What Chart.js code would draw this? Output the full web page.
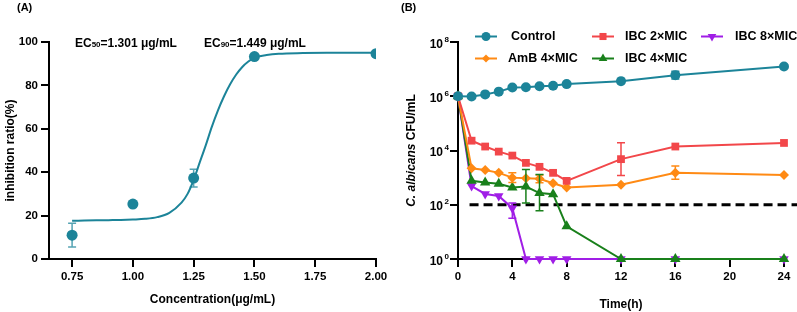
<!DOCTYPE html>
<html>
<head>
<meta charset="utf-8">
<script src="https://cdn.jsdelivr.net/npm/chart.js@4.4.0/dist/chart.umd.min.js"></script>
<style>
  body { margin: 0; background: #fff; }
  #wrap { position: relative; width: 797px; height: 312px; }
  canvas { position: absolute; top: 0; }
</style>
</head>
<body>
<div id="wrap">
  <canvas id="graficoA" width="400" height="312" style="left:0"></canvas>
  <canvas id="graficoB" width="397" height="312" style="left:400px"></canvas>
</div>
<script>
// ---- Panel A: inhibición vs concentración ----
const concentraciones = [0.75, 1.00, 1.25, 1.50, 2.00];
const inhibicion = [11.0, 25.3, 37.3, 93.3, 94.6];
const inhibicionError = [5.5, null, 4.1, null, null]; // +/- (SD)
// curva ajustada
const curvaX = [0.75, 0.80, 0.85, 0.90, 0.95, 1.00, 1.05, 1.10, 1.15, 1.20, 1.225, 1.25, 1.275, 1.30, 1.325, 1.35, 1.375, 1.40, 1.425, 1.45, 1.475, 1.50, 1.55, 1.60, 1.70, 1.80, 1.90, 2.00];
const curvaY = [17.6, 17.7, 17.8, 17.9, 18.0, 18.2, 18.5, 19.3, 21.3, 26.0, 30.0, 36.5, 44.5, 52.5, 61.0, 68.5, 75.0, 80.5, 85.0, 88.5, 91.0, 92.8, 94.0, 94.6, 94.9, 95.0, 95.0, 95.0];
const ticksConcentracion = [0.75, 1.00, 1.25, 1.50, 1.75, 2.00];
const ticksInhibicion = [0, 20, 40, 60, 80, 100];

// ---- Panel B: curva de muerte ----
const tiempos = [0, 1, 2, 3, 4, 5, 6, 7, 8, 12, 16, 24];
const control = [1e6, 0.98e6, 1.17e6, 1.48e6, 2.1e6, 2.15e6, 2.35e6, 2.45e6, 2.8e6, 3.6e6, 6.0e6, 1.25e7];
const ibc2 = [1e6, 2.3e4, 1.4e4, 9.1e3, 6.5e3, 3.5e3, 2.5e3, 1.5e3, 760, 4.8e3, 1.4e4, 1.9e4];
const amb4 = [1e6, 2.2e3, 1.9e3, 1.5e3, 1.0e3, 950, 900, 620, 430, 550, 1.5e3, 1.25e3];
const ibc4 = [1e6, 760, 660, 590, 430, 470, 270, 245, 16, 1, 1, 1];
const ibc8 = [1e6, 490, 250, 210, 75, 1, 1, 1, 1, 1, 1, 1];
// barras de error [min, max] por punto (null = sin barra)
const controlErr = [null, null, null, null, null, null, null, null, null, null, [4.3e6, 8.3e6], null];
const ibc2Err = [null, null, null, null, null, null, null, null, null, [1.2e3, 1.95e4], null, null];
const amb4Err = [null, null, null, null, [660, 1.5e3], null, [650, 1.25e3], null, null, null, [870, 2.7e3], null];
const ibc4Err = [null, null, null, null, null, [115, 2.0e3], [60, 1.3e3], null, null, null, null, null];
const ibc8Err = [null, null, null, null, [32, 115], null, null, null, null, null, null, null];
const limiteDeteccion = 100;
const limiteTiempos = [0.85, 25];
const ticksTiempo = [0, 4, 8, 12, 16, 20, 24];
const ticksUFC = [1, 1e2, 1e4, 1e6, 1e8];

const FUENTE = "'Liberation Sans', Arial, sans-serif";
const TEAL = '#1c8499';
const ROJO = '#f2474a';
const NARANJA = '#ff8a14';
const VERDE = '#19801b';
const MORADO = '#a01ee6';

Chart.defaults.font.family = FUENTE;
Chart.defaults.font.weight = 'bold';
Chart.defaults.color = '#000';

function ejeBase(extra) {
  return Object.assign({
    grid: { display: true, drawOnChartArea: false, drawTicks: true, tickLength: 8, color: '#000', lineWidth: 2 },
    border: { display: true, color: '#000', width: 2 },
    ticks: { color: '#000', font: { size: 11.5, weight: 'bold' }, padding: 3 }
  }, extra);
}

// dibuja barras de error guardadas en dataset.errores
const barrasError = {
  id: 'barrasError',
  afterDatasetsDraw(chart) {
    const ctx = chart.ctx;
    const xs = chart.scales.x, ys = chart.scales.y;
    chart.data.datasets.forEach(ds => {
      if (!ds.errores) return;
      ds.errores.forEach((e, j) => {
        if (!e) return;
        const px = xs.getPixelForValue(ds.data[j].x);
        const y1 = ys.getPixelForValue(e[0]);
        const y2 = ys.getPixelForValue(e[1]);
        ctx.save();
        ctx.strokeStyle = ds.colorError || ds.borderColor;
        ctx.lineWidth = 1.5;
        ctx.beginPath();
        ctx.moveTo(px, y1); ctx.lineTo(px, y2);
        ctx.moveTo(px - 4, y1); ctx.lineTo(px + 4, y1);
        ctx.moveTo(px - 4, y2); ctx.lineTo(px + 4, y2);
        ctx.stroke();
        ctx.restore();
      });
    });
  }
};

// ---- Gráfico A ----
const textosA = {
  id: 'textosA',
  afterDraw(chart) {
    const ctx = chart.ctx;
    ctx.save();
    ctx.fillStyle = '#000';
    ctx.textBaseline = 'alphabetic';
    ctx.font = 'bold 11px ' + FUENTE;
    ctx.fillText('(A)', 17, 11);
    const ec = [['50', '=1.301 μg/mL', 75], ['90', '=1.449 μg/mL', 204]];
    const yTexto = chart.scales.y.getPixelForValue(100) + 4.5;
    ec.forEach(([sub, resto, x0]) => {
      ctx.font = 'bold 12px ' + FUENTE;
      ctx.fillText('EC', x0, yTexto);
      let x = x0 + ctx.measureText('EC').width;
      ctx.font = 'bold 8px ' + FUENTE;
      ctx.fillText(sub, x, yTexto + 0.5);
      x += ctx.measureText(sub).width;
      ctx.font = 'bold 12px ' + FUENTE;
      ctx.fillText(resto, x, yTexto);
    });
    ctx.restore();
  }
};

new Chart(document.getElementById('graficoA'), {
  type: 'scatter',
  data: {
    datasets: [
      {
        label: 'Puntos',
        data: concentraciones.map((c, i) => ({ x: c, y: inhibicion[i] })),
        errores: inhibicionError.map((e, i) => e == null ? null : [inhibicion[i] - e, inhibicion[i] + e]),
        colorError: 'rgba(28,132,153,0.75)',
        backgroundColor: TEAL,
        borderColor: TEAL,
        pointRadius: 5.5,
        pointBorderWidth: 0
      },
      {
        label: 'Curva',
        data: curvaX.map((c, i) => ({ x: c, y: curvaY[i] })),
        showLine: true,
        borderColor: TEAL,
        borderWidth: 2,
        pointRadius: 0,
        cubicInterpolationMode: 'monotone'
      }
    ]
  },
  options: {
    responsive: false,
    animation: false,
    layout: { padding: { top: 42, right: 24, left: 0, bottom: 0 } },
    plugins: { legend: { display: false }, tooltip: { enabled: false } },
    scales: {
      x: ejeBase({
        type: 'linear', min: 0.655, max: 2.0,
        afterBuildTicks: s => { s.ticks = ticksConcentracion.map(v => ({ value: v })); },
        afterFit: s => { s.height = 53; },
        ticks: { color: '#000', font: { size: 11.5, weight: 'bold' }, padding: 3, callback: v => Number(v).toFixed(2) },
        title: { display: true, text: 'Concentration(μg/mL)', font: { size: 12, weight: 'bold' }, padding: { top: 0, bottom: 5 } }
      }),
      y: ejeBase({
        type: 'linear', min: 0, max: 100,
        afterBuildTicks: s => { s.ticks = ticksInhibicion.map(v => ({ value: v })); },
        afterFit: s => { s.width = 49; },
        title: { display: true, text: 'inhibition ratio(%)', font: { size: 12, weight: 'bold' }, padding: { top: 3, bottom: 0 } }
      })
    }
  },
  plugins: [barrasError, textosA]
});

// ---- Gráfico B ----
const leyendaB = [
  { texto: 'Control', color: TEAL, estilo: 'circle', rot: 0, radio: 4.5, mx: 86, tx: 111, y: 36.5 },
  { texto: 'IBC 2×MIC', color: ROJO, estilo: 'rect', rot: 0, radio: 5, mx: 203, tx: 225, y: 36.5 },
  { texto: 'IBC 8×MIC', color: MORADO, estilo: 'triangle', rot: 180, radio: 5, mx: 312, tx: 335, y: 36.5 },
  { texto: 'AmB 4×MIC', color: NARANJA, estilo: 'rectRot', rot: 0, radio: 4, mx: 86, tx: 108, y: 58.5 },
  { texto: 'IBC 4×MIC', color: VERDE, estilo: 'triangle', rot: 0, radio: 5, mx: 203, tx: 225, y: 58.5 }
];

const textosB = {
  id: 'textosB',
  afterDraw(chart) {
    const ctx = chart.ctx;
    const ys = chart.scales.y;
    ctx.save();
    ctx.fillStyle = '#000';
    ctx.font = 'bold 11px ' + FUENTE;
    ctx.textBaseline = 'alphabetic';
    ctx.fillText('(B)', 1, 11);

    // etiquetas 10^n
    ticksUFC.forEach(v => {
      const y = ys.getPixelForValue(v);
      const exp = String(Math.round(Math.log10(v)));
      ctx.font = 'bold 12px ' + FUENTE;
      ctx.textAlign = 'right';
      ctx.fillText('10', 43, y + 5.5);
      ctx.font = 'bold 8px ' + FUENTE;
      ctx.textAlign = 'left';
      ctx.fillText(exp, 44.5, y - 0.5);
    });

    // título eje Y con cursiva
    ctx.save();
    ctx.translate(12, (ys.top + ys.bottom) / 2);
    ctx.rotate(-Math.PI / 2);
    ctx.textAlign = 'left';
    ctx.textBaseline = 'middle';
    ctx.font = 'italic bold 12px ' + FUENTE;
    const w1 = ctx.measureText('C. albicans').width;
    ctx.font = 'bold 12px ' + FUENTE;
    const w2 = ctx.measureText(' CFU/mL').width;
    let x = -(w1 + w2) / 2;
    ctx.font = 'italic bold 12px ' + FUENTE;
    ctx.fillText('C. albicans', x, 0);
    ctx.font = 'bold 12px ' + FUENTE;
    ctx.fillText(' CFU/mL', x + w1, 0);
    ctx.restore();

    // leyenda
    leyendaB.forEach(it => {
      ctx.strokeStyle = it.color;
      ctx.fillStyle = it.color;
      ctx.lineWidth = 2;
      ctx.beginPath();
      ctx.moveTo(it.mx - 11, it.y); ctx.lineTo(it.mx + 11, it.y);
      ctx.stroke();
      Chart.helpers.drawPoint(ctx, { pointStyle: it.estilo, rotation: it.rot, radius: it.radio, borderWidth: 0 }, it.mx, it.y);
      ctx.fillStyle = '#000';
      ctx.font = 'bold 12.5px ' + FUENTE;
      ctx.textAlign = 'left';
      ctx.textBaseline = 'middle';
      ctx.fillText(it.texto, it.tx, it.y);
    });
    ctx.restore();
  }
};

function serie(nombre, valores, errores, color, estilo, radio, rot) {
  return {
    label: nombre,
    data: tiempos.map((t, i) => ({ x: t, y: valores[i] })),
    errores: errores,
    showLine: true,
    borderColor: color,
    backgroundColor: color,
    borderWidth: 2,
    pointStyle: estilo,
    pointRadius: radio,
    pointRotation: rot || 0,
    pointBorderWidth: 0,
    clip: false
  };
}

new Chart(document.getElementById('graficoB'), {
  type: 'scatter',
  data: {
    datasets: [
      serie('Control', control, controlErr, TEAL, 'circle', 5),
      serie('IBC 2×MIC', ibc2, ibc2Err, ROJO, 'rect', 5.5),
      serie('AmB 4×MIC', amb4, amb4Err, NARANJA, 'rectRot', 5),
      serie('IBC 4×MIC', ibc4, ibc4Err, VERDE, 'triangle', 6),
      serie('IBC 8×MIC', ibc8, ibc8Err, MORADO, 'triangle', 5.5, 180),
      {
        label: 'Límite',
        data: limiteTiempos.map(t => ({ x: t, y: limiteDeteccion })),
        showLine: true,
        borderColor: '#000',
        borderWidth: 3,
        borderDash: [9, 5],
        pointRadius: 0,
        clip: false
      }
    ]
  },
  options: {
    responsive: false,
    animation: false,
    layout: { padding: { top: 42, right: 13, left: 0, bottom: 0 } },
    plugins: { legend: { display: false }, tooltip: { enabled: false } },
    scales: {
      x: ejeBase({
        type: 'linear', min: 0, max: 24,
        afterBuildTicks: s => { s.ticks = ticksTiempo.map(v => ({ value: v })); },
        afterFit: s => { s.height = 53; },
        title: { display: true, text: 'Time(h)', font: { size: 12, weight: 'bold' }, padding: { top: 0, bottom: 0 } }
      }),
      y: ejeBase({
        type: 'logarithmic', min: 1, max: 1e8,
        afterBuildTicks: s => { s.ticks = ticksUFC.map(v => ({ value: v })); },
        afterFit: s => { s.width = 58; },
        ticks: { display: false }
      })
    }
  },
  plugins: [barrasError, textosB]
});
</script>
</body>
</html>
